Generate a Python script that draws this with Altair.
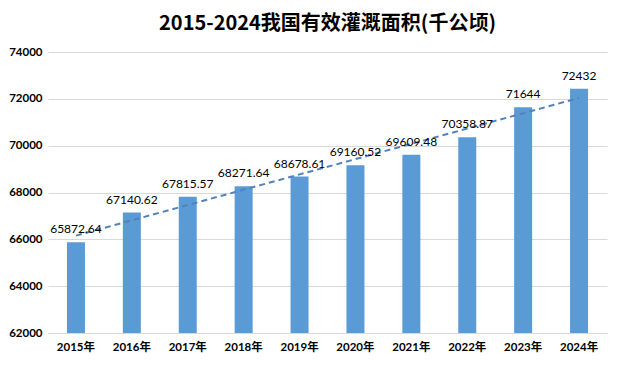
import altair as alt
import pandas as pd

years = [2015, 2016, 2017, 2018, 2019, 2020, 2021, 2022, 2023, 2024]
values = [65872.64, 67140.62, 67815.57, 68271.64, 68678.61, 69160.52, 69609.48, 70358.87, 71644, 72432]
value_text = ["65872.64", "67140.62", "67815.57", "68271.64", "68678.61", "69160.52", "69609.48", "70358.87", "71644", "72432"]
labels = [f"{y}年" for y in years]
y_ticks = [62000, 64000, 66000, 68000, 70000, 72000, 74000]

df = pd.DataFrame({"year": years, "value": values, "label": labels, "text": value_text})

FONT = "Lato, Noto Sans CJK SC"
x_enc = alt.X("label:N", sort=labels, title=None,
              scale=alt.Scale(paddingInner=0.678, paddingOuter=0.339),
              axis=alt.Axis(labelAngle=0, ticks=False, domain=True, domainColor="#d9d9d9",
                            labelFont=FONT, labelFontSize=11.5, labelFontWeight="bold",
                            labelColor="#000000", labelPadding=8))
y_scale = alt.Scale(domain=[62000, 74000], zero=False, nice=False)

base = alt.Chart(df)

bars = base.mark_bar(color="#5b9bd5").encode(
    x=x_enc,
    y=alt.Y("value:Q", scale=y_scale, title=None,
            axis=alt.Axis(values=y_ticks, format="d", domain=False, ticks=False,
                          gridColor="#d9d9d9", labelFont=FONT, labelFontSize=11.5,
                          labelFontWeight="bold", labelColor="#000000", labelPadding=6)),
    y2=alt.datum(62000),
)

text = base.mark_text(baseline="bottom", dy=-6, font=FONT, fontSize=12, color="#000000").encode(
    x=alt.X("label:N", sort=labels),
    y=alt.Y("value:Q", scale=y_scale),
    text="text:N",
)

trend = base.transform_regression("year", "value").transform_calculate(
    label="toString(datum.year) + '年'"
).mark_line(color="#5183ba", strokeDash=[6, 4], strokeWidth=2).encode(
    x=alt.X("label:N", sort=labels),
    y=alt.Y("value:Q", scale=y_scale),
)

chart = alt.layer(bars, trend, text).properties(
    width=559, height=281,
    autosize=alt.AutoSizeParams(type="none"),
    padding={"left": 40, "top": 44, "right": 9, "bottom": 25},
    title=alt.TitleParams("2015-2024我国有效灌溉面积(千公顷)", font="Noto Sans CJK SC",
                          fontSize=20, fontWeight="bold", color="#000000", offset=12,
                          anchor="middle"),
).configure_view(stroke=None)

chart.save("out.html", embed_options={"renderer": "svg", "actions": False})
